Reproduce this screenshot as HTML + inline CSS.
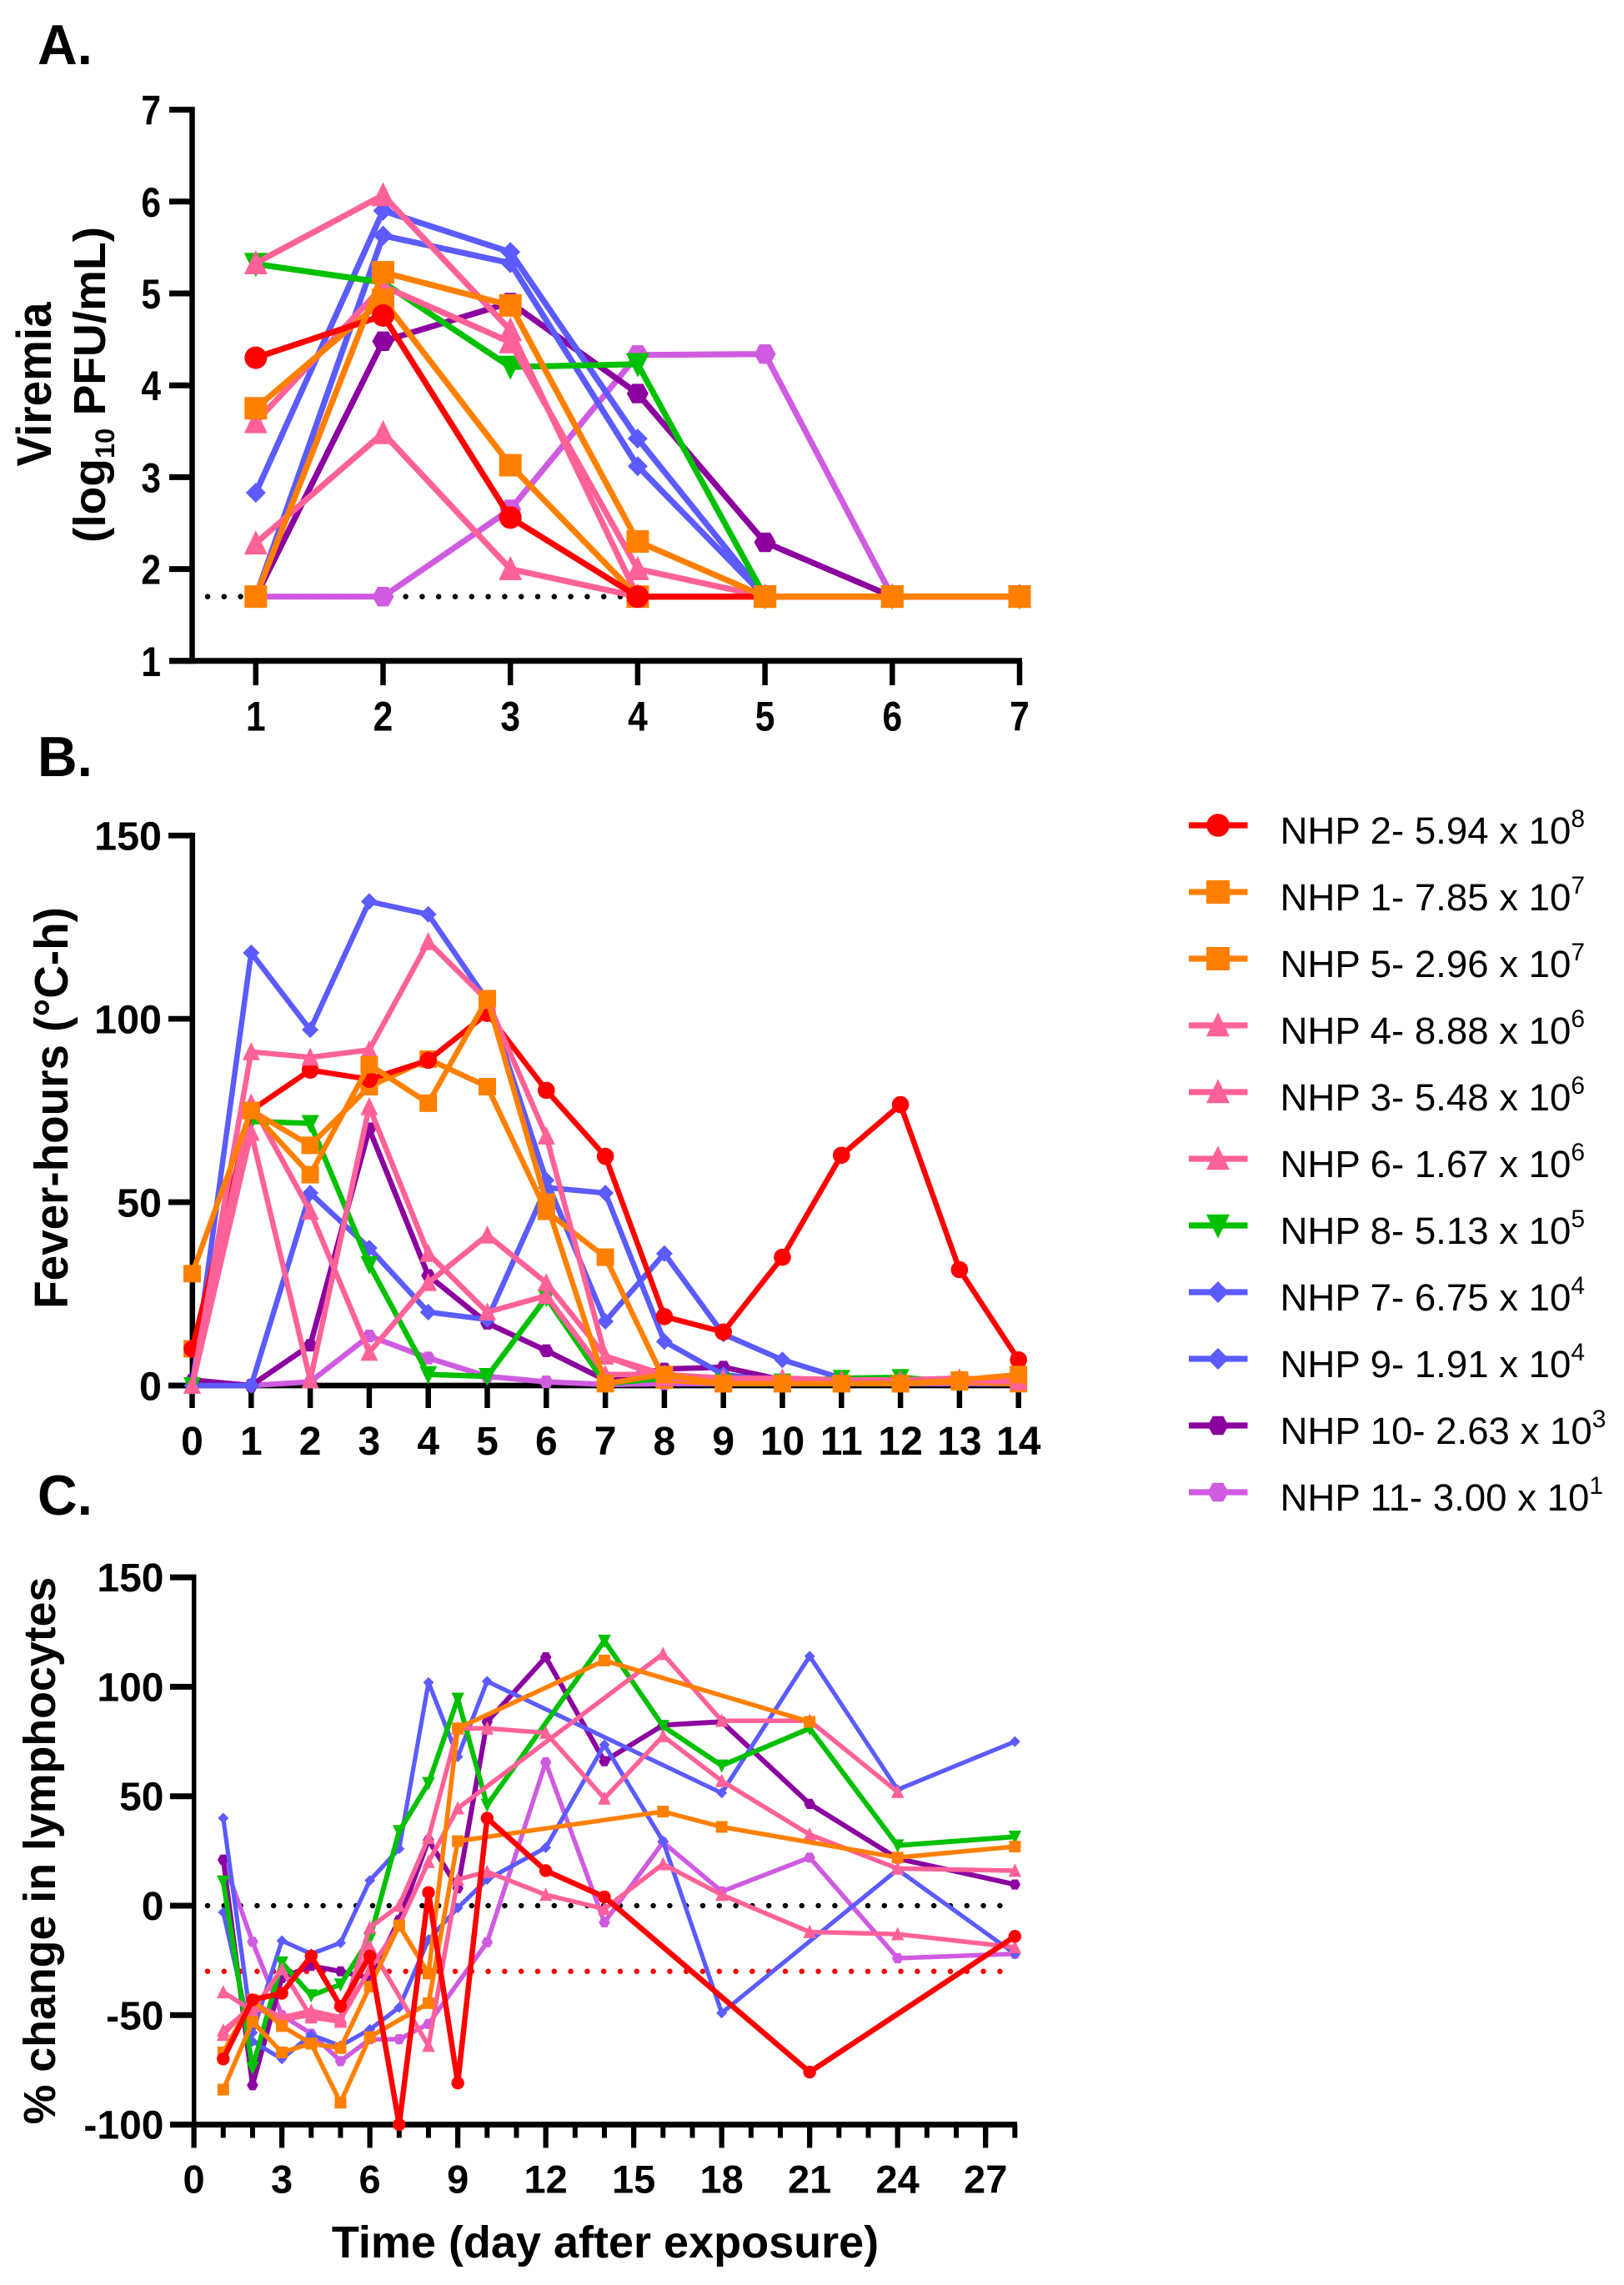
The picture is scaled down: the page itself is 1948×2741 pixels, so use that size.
<!DOCTYPE html>
<html lang="en">
<head>
<meta charset="utf-8">
<title>NHP viremia, fever-hours and lymphocyte change</title>
<style>
html,body{margin:0;padding:0;background:#fff;}
svg{display:block;}
text{font-family:"Liberation Sans",sans-serif;fill:#000;}
.bold{font-weight:bold;}
</style>
</head>
<body>
<svg id="figure" xmlns="http://www.w3.org/2000/svg" width="1948" height="2741" viewBox="0 0 1948 2741">
  <rect width="1948" height="2741" fill="#fff"/>

  <text class="bold" font-size="68" transform="translate(45,77) scale(.97,1)">A.</text>
  <text class="bold" font-size="68" transform="translate(45,931) scale(.97,1)">B.</text>
  <text class="bold" font-size="68" transform="translate(45,1817) scale(.97,1)">C.</text>

  <text class="bold" font-size="58" text-anchor="middle" transform="translate(61,461) rotate(-90) scale(.945,1)">Viremia</text>
  <text class="bold" font-size="54" text-anchor="middle" transform="translate(126,461.5) rotate(-90) scale(1.02,1)">(log<tspan font-size="32" dy="11">10</tspan><tspan dy="-11"> PFU/mL)</tspan></text>
  <text class="bold" font-size="57" text-anchor="middle" transform="translate(81,1329) rotate(-90) scale(.962,1)">Fever-hours (°C-h)</text>
  <text class="bold" font-size="54" text-anchor="middle" transform="translate(66,2220) rotate(-90) scale(.995,1)">% change in lymphocytes</text>
  <text class="bold" font-size="54" text-anchor="middle" transform="translate(726,2708) scale(1,1)">Time (day after exposure)</text>

  <g id="axes-layer"></g>
  <g id="marks-layer"></g>

  <g id="legend">
    <g id="legend-keys"></g>
    <text font-size="45.6" transform="translate(1535.5,1012)">NHP 2- 5.94 x 10<tspan font-size="30" dy="-20">8</tspan></text>
    <text font-size="45.6" transform="translate(1535.5,1092)">NHP 1- 7.85 x 10<tspan font-size="30" dy="-20">7</tspan></text>
    <text font-size="45.6" transform="translate(1535.5,1172)">NHP 5- 2.96 x 10<tspan font-size="30" dy="-20">7</tspan></text>
    <text font-size="45.6" transform="translate(1535.5,1252)">NHP 4- 8.88 x 10<tspan font-size="30" dy="-20">6</tspan></text>
    <text font-size="45.6" transform="translate(1535.5,1332)">NHP 3- 5.48 x 10<tspan font-size="30" dy="-20">6</tspan></text>
    <text font-size="45.6" transform="translate(1535.5,1412)">NHP 6- 1.67 x 10<tspan font-size="30" dy="-20">6</tspan></text>
    <text font-size="45.6" transform="translate(1535.5,1492)">NHP 8- 5.13 x 10<tspan font-size="30" dy="-20">5</tspan></text>
    <text font-size="45.6" transform="translate(1535.5,1572)">NHP 7- 6.75 x 10<tspan font-size="30" dy="-20">4</tspan></text>
    <text font-size="45.6" transform="translate(1535.5,1652)">NHP 9- 1.91 x 10<tspan font-size="30" dy="-20">4</tspan></text>
    <text font-size="45.6" transform="translate(1535.5,1732)">NHP 10- 2.63 x 10<tspan font-size="30" dy="-20">3</tspan></text>
    <text font-size="45.6" transform="translate(1535.5,1812)">NHP 11- 3.00 x 10<tspan font-size="30" dy="-20">1</tspan></text>
  </g>
</svg>

<script>
// ---------- Panel A: viremia ----------
const viremiaDays = [1, 2, 3, 4, 5, 6, 7];
const viremiaTicksX = [1, 2, 3, 4, 5, 6, 7];
const viremiaTicksY = [1, 2, 3, 4, 5, 6, 7];
const viremiaLimit = [1.7];
const viremiaNhp2 = [4.3, 4.76, 2.56, 1.7, 1.7, 1.7, 1.7];
const viremiaNhp1 = [3.75, 4.93, 3.13, 1.7, 1.7, 1.7, 1.7];
const viremiaNhp5 = [1.7, 5.23, 4.87, 2.3, 1.7, 1.7, 1.7];
const viremiaNhp4 = [5.33, 6.07, 4.6, 1.7, 1.7, 1.7, 1.7];
const viremiaNhp3 = [3.6, 5.08, 4.47, 2.0, 1.7, 1.7, 1.7];
const viremiaNhp6 = [2.28, 3.48, 2.0, 1.7, 1.7, 1.7, 1.7];
const viremiaNhp8 = [5.32, 5.12, 4.2, 4.23, 1.7, 1.7, 1.7];
const viremiaNhp7 = [2.83, 5.9, 5.45, 3.42, 1.7, 1.7, 1.7];
const viremiaNhp9 = [1.7, 5.63, 5.33, 3.12, 1.7, 1.7, 1.7];
const viremiaNhp10 = [1.7, 4.48, 4.9, 3.91, 2.29, 1.7, 1.7];
const viremiaNhp11 = [1.7, 1.7, 2.65, 4.33, 4.34, 1.7, 1.7];

// ---------- Panel B: fever-hours ----------
const feverDays = [0, 1, 2, 3, 4, 5, 6, 7, 8, 9, 10, 11, 12, 13, 14];
const feverTicksX = [0, 1, 2, 3, 4, 5, 6, 7, 8, 9, 10, 11, 12, 13, 14];
const feverTicksY = [0, 50, 100, 150];
const feverNhp2 = [10, 75, 86, 83.5, 88.7, 101.5, 80.5, 62.5, 18.8, 14.6, 35, 62.8, 76.6, 31.6, 7];
const feverNhp1 = [10, 75, 65.5, 81.5, 89, 81.5, 47.5, 35, 1.5, 0.5, 0.5, 0.5, 0.5, 1, 0.5];
const feverNhp5 = [30.5, 75, 57.5, 87.5, 77, 105.5, 50, 0.5, 3, 0.5, 0.5, 0.5, 0.5, 1.5, 3];
const feverNhp4 = [0, 91, 89.5, 91.5, 121, 105, 68, 8, 3, 2, 2, 1.5, 1.5, 2, 1.5];
const feverNhp3 = [0, 77, 47.5, 9, 28, 41, 28, 8, 2, 1.5, 2, 1.5, 1.5, 2, 1.5];
const feverNhp6 = [0, 69, 1.5, 76, 36, 20, 24.5, 3, 3, 2, 1.5, 1.5, 1.5, 1.5, 1];
const feverNhp8 = [0, 72, 71.5, 33, 3, 2.5, 24, 0.5, 2, 1, 1, 2, 2.2, 1, 1];
const feverNhp7 = [0, 118, 97, 132, 128.5, 105, 56, 17.5, 36, 14, 7, 2, 1, 1, 1];
const feverNhp9 = [0, 0, 52.5, 37.5, 20, 18, 54, 52.5, 12, 3, 1, 1, 1, 1, 1];
const feverNhp10 = [1.5, 0, 11, 70, 30, 17, 9.5, 1.5, 4.5, 5, 1.5, 1, 1, 1, 1];
const feverNhp11 = [0, 0, 1, 13.5, 7.5, 2.5, 1, 0.3, 0.5, 0.5, 0.5, 0.5, 0.5, 0.5, 0.5];

// ---------- Panel C: lymphocyte change ----------
const lymphDays = [1, 2, 3, 4, 5, 6, 7, 8, 9, 10, 12, 14, 16, 18, 21, 24, 28];
const lymphTicksMinor = [0, 1, 2, 3, 4, 5, 6, 7, 8, 9, 10, 11, 12, 13, 14, 15, 16, 17, 18, 19, 20, 21, 22, 23, 24, 25, 26, 27, 28];
const lymphTicksLabelled = [0, 3, 6, 9, 12, 15, 18, 21, 24, 27];
const lymphTicksY = [-100, -50, 0, 50, 100, 150];
const lymphBaseline = [0];
const lymphThreshold = [-30];
const lymphNhp2 = [-70, -43, -40, -23, -46, -23, -100, 6, -81, 40, 16, 4, null, null, -76, null, -14];
const lymphNhp1 = [-84, -53, -67, -63, -90, -60, null, -44.5, 29.5, null, null, null, 43, 36, null, 22, 27];
const lymphNhp5 = [-67, -43, -55, -63, -65, -37, -9, -31, 81, null, null, 112, null, null, 84, null, null];
const lymphNhp4 = [-39.5, -48, -29, -51, -53, -18.5, null, -64, 12, 15.5, 5, -1.5, 19, 5, -12, -13, -19];
const lymphNhp3 = [-59, -44.5, -51, -48, -51, -10, 0, 31, 81, 81, 79, 49, 77.5, 57, 32.5, 17, 16];
const lymphNhp6 = [-57, -46, -52, -50, -52, -29, -9, 20, 44.5, null, null, null, 115, 84.5, 84.5, 52, null];
const lymphNhp8 = [11, -74, -26, -41, -36, -15, 34, 56, 94.5, 46, null, 121, 82, 64, 81, 27.5, 31.5];
const lymphNhp7 = [40, -58, -16, -22, -17, 11.5, 26, 102, 68, 102.5, null, null, null, 51.5, 114, 53, 75];
const lymphNhp9 = [-3, -62, -70, -59, -64, -56.5, -46.5, -15.5, -1, 12, 26.5, 73.5, 29.5, -49, null, 16.5, -22];
const lymphNhp10 = [21, -82, -33, -27.5, -30, -33, -6.5, 30, 8, 84, 113.5, 66, 82.5, 84, 46.5, 21.5, 9.7];
const lymphNhp11 = [21, -16.5, -50, -58.5, -71, -61, -61, -54, null, -16.7, 65.5, -7.6, 29, 6.5, 22, -24, -22];

// ---------- Series appearance and legend order ----------
const legendOrder = ['nhp2', 'nhp1', 'nhp5', 'nhp4', 'nhp3', 'nhp6', 'nhp8', 'nhp7', 'nhp9', 'nhp10', 'nhp11'];
const seriesColor = {
  nhp2: '#ff0000', nhp1: '#ff8000', nhp5: '#ff8000', nhp4: '#ff6199', nhp3: '#ff6199', nhp6: '#ff6199',
  nhp8: '#00c000', nhp7: '#5b5bff', nhp9: '#5b5bff', nhp10: '#8b009f', nhp11: '#cf5be0'
};
const seriesShape = {
  nhp2: 'circle', nhp1: 'square', nhp5: 'square', nhp4: 'triangle', nhp3: 'triangle', nhp6: 'triangle',
  nhp8: 'inverted', nhp7: 'diamond', nhp9: 'diamond', nhp10: 'hexagon', nhp11: 'hexagon'
};

// ---------- Axis functions ----------
function xA(d) { return 306.8 + (d - 1) * 152.7; }
function yA(v) { return 792.8 - (v - 1) * 110.2; }
function xB(d) { return 230.5 + d * 70.8; }
function yB(v) { return 1662 - v * 4.3985; }
function xC(d) { return 232.6 + d * 35.17; }
function yC(v) { return 2286 - v * 2.6258; }

const NS = 'http://www.w3.org/2000/svg';
const axesLayer = document.getElementById('axes-layer');
const marksLayer = document.getElementById('marks-layer');
const legendKeys = document.getElementById('legend-keys');

function makeLine(parent, x1, y1, x2, y2, width, color) {
  const el = document.createElementNS(NS, 'line');
  el.setAttribute('x1', x1);
  el.setAttribute('y1', y1);
  el.setAttribute('x2', x2);
  el.setAttribute('y2', y2);
  el.setAttribute('stroke', color);
  el.setAttribute('stroke-width', width);
  parent.appendChild(el);
  return el;
}

function makeTickLabel(parent, x, y, str, anchor, size, sx, name) {
  const el = document.createElementNS(NS, 'text');
  el.setAttribute('class', 'bold');
  el.setAttribute('font-size', size);
  el.setAttribute('text-anchor', anchor);
  el.setAttribute('transform', 'translate(' + x + ',' + y + ') scale(' + sx + ',1)');
  el.textContent = str;
  
  
  parent.appendChild(el);
  return el;
}

function makeMarker(parent, shape, cx, cy, s, color) {
  let el;
  if (shape === 'circle') {
    el = document.createElementNS(NS, 'circle');
    el.setAttribute('cx', cx);
    el.setAttribute('cy', cy);
    el.setAttribute('r', s.circle);
  } else if (shape === 'square') {
    el = document.createElementNS(NS, 'rect');
    el.setAttribute('x', cx - s.square / 2);
    el.setAttribute('y', cy - s.square / 2);
    el.setAttribute('width', s.square);
    el.setAttribute('height', s.square);
  } else {
    el = document.createElementNS(NS, 'polygon');
    let pts;
    if (shape === 'triangle') {
      const w = s.tri / 2, h = s.tri * 0.56;
      pts = [[cx, cy - h], [cx + w, cy + h * 0.85], [cx - w, cy + h * 0.85]];
    } else if (shape === 'inverted') {
      const w = s.tri / 2, h = s.tri * 0.56;
      pts = [[cx, cy + h], [cx + w, cy - h * 0.85], [cx - w, cy - h * 0.85]];
    } else if (shape === 'diamond') {
      const r = s.diamond / 2;
      pts = [[cx, cy - r], [cx + r, cy], [cx, cy + r], [cx - r, cy]];
    } else {
      const w = s.hex / 2, h = s.hex * 0.45;
      pts = [[cx - w, cy], [cx - w * 0.5, cy - h], [cx + w * 0.5, cy - h], [cx + w, cy], [cx + w * 0.5, cy + h], [cx - w * 0.5, cy + h]];
    }
    el.setAttribute('points', pts.map(function (p) { return p[0].toFixed(1) + ',' + p[1].toFixed(1); }).join(' '));
  }
  el.setAttribute('fill', color);
  parent.appendChild(el);
  return el;
}

function drawSeries(chartName, key, days, values, xFn, yFn, lineWidth, sizes) {
  const group = document.createElementNS(NS, 'g');
  
  
  const color = seriesColor[key];
  const points = [];
  days.forEach(function (d, i) {
    if (values[i] !== null) points.push([xFn(d), yFn(values[i])]);
  });
  const path = document.createElementNS(NS, 'polyline');
  path.setAttribute('points', points.map(function (p) { return p[0].toFixed(1) + ',' + p[1].toFixed(1); }).join(' '));
  path.setAttribute('fill', 'none');
  path.setAttribute('stroke', color);
  path.setAttribute('stroke-width', lineWidth);
  path.setAttribute('stroke-linejoin', 'round');
  
  
  group.appendChild(path);
  points.forEach(function (p) {
    const m = makeMarker(group, seriesShape[key], p[0], p[1], sizes, color);
    
    
  });
  marksLayer.appendChild(group);
}

function drawDotted(name, value, yFn, x1, x2, color) {
  const el = makeLine(marksLayer, x1, yFn(value), x2, yFn(value), 6.5, color);
  el.setAttribute('stroke-dasharray', '0 19.8');
  el.setAttribute('stroke-linecap', 'round');
  
  
}

function drawAxisLines(name, axisX, axisY, topY, leftX, rightX, widthV, widthH) {
  const yAxis = makeLine(axesLayer, axisX, topY - widthH / 2, axisX, axisY + widthH / 2, widthV, '#000');
  
  
  const xAxis = makeLine(axesLayer, leftX, axisY, rightX, axisY, widthH, '#000');
  
  
}

function tickY(name, v, yFn, leftX, axisX, width, labelX, baseOffset, size, sx) {
  const t = makeLine(axesLayer, leftX, yFn(v), axisX, yFn(v), width, '#000');
  
  
  makeTickLabel(axesLayer, labelX, yFn(v) + baseOffset, String(v), 'end', size, sx, name + '-y-tick-label');
}

function tickX(name, d, xFn, axisY, bottomY, width) {
  const t = makeLine(axesLayer, xFn(d), axisY, xFn(d), bottomY, width, '#000');
  
  
}

// ---------- Panel A ----------
drawAxisLines('viremia', 230.5, yA(1), yA(7), 203, 1226, 6.5, 7);
viremiaTicksY.forEach(function (v) { tickY('viremia', v, yA, 203, 230.5, 7, 193, 18, 50, 0.85); });
viremiaTicksX.forEach(function (d) {
  tickX('viremia', d, xA, yA(1), 822, 6.5);
  makeTickLabel(axesLayer, xA(d), 876.5, String(d), 'middle', 50, 0.85, 'viremia-x-tick-label');
});
drawDotted('viremia-detection-limit', viremiaLimit[0], yA, 249, 765, '#000');

const viremiaSizes = { circle: 13.5, square: 27, tri: 28, diamond: 24, hex: 26 };
drawSeries('viremia', 'nhp11', viremiaDays, viremiaNhp11, xA, yA, 7.2, viremiaSizes);
drawSeries('viremia', 'nhp10', viremiaDays, viremiaNhp10, xA, yA, 7.2, viremiaSizes);
drawSeries('viremia', 'nhp9', viremiaDays, viremiaNhp9, xA, yA, 7.2, viremiaSizes);
drawSeries('viremia', 'nhp7', viremiaDays, viremiaNhp7, xA, yA, 7.2, viremiaSizes);
drawSeries('viremia', 'nhp8', viremiaDays, viremiaNhp8, xA, yA, 7.2, viremiaSizes);
drawSeries('viremia', 'nhp6', viremiaDays, viremiaNhp6, xA, yA, 7.2, viremiaSizes);
drawSeries('viremia', 'nhp3', viremiaDays, viremiaNhp3, xA, yA, 7.2, viremiaSizes);
drawSeries('viremia', 'nhp4', viremiaDays, viremiaNhp4, xA, yA, 7.2, viremiaSizes);
drawSeries('viremia', 'nhp1', viremiaDays, viremiaNhp1, xA, yA, 7.2, viremiaSizes);
drawSeries('viremia', 'nhp2', viremiaDays, viremiaNhp2, xA, yA, 7.2, viremiaSizes);
drawSeries('viremia', 'nhp5', viremiaDays, viremiaNhp5, xA, yA, 7.2, viremiaSizes);

// ---------- Panel B ----------
drawAxisLines('fever', 230.8, yB(0), yB(150), 202, 1225, 6.5, 6.8);
feverTicksY.forEach(function (v) { tickY('fever', v, yB, 202, 230.8, 6.8, 194, 17.5, 48, 1.01); });
feverTicksX.forEach(function (d) {
  tickX('fever', d, xB, yB(0), 1689, 6.5);
  makeTickLabel(axesLayer, xB(d), 1745, String(d), 'middle', 48, 1, 'fever-x-tick-label');
});

const feverSizes = { circle: 10.3, square: 21, tri: 21, diamond: 20, hex: 17 };
drawSeries('fever', 'nhp11', feverDays, feverNhp11, xB, yB, 6.5, feverSizes);
drawSeries('fever', 'nhp10', feverDays, feverNhp10, xB, yB, 6.5, feverSizes);
drawSeries('fever', 'nhp9', feverDays, feverNhp9, xB, yB, 6.5, feverSizes);
drawSeries('fever', 'nhp7', feverDays, feverNhp7, xB, yB, 6.5, feverSizes);
drawSeries('fever', 'nhp8', feverDays, feverNhp8, xB, yB, 6.5, feverSizes);
drawSeries('fever', 'nhp1', feverDays, feverNhp1, xB, yB, 6.5, feverSizes);
drawSeries('fever', 'nhp2', feverDays, feverNhp2, xB, yB, 6.5, feverSizes);
drawSeries('fever', 'nhp6', feverDays, feverNhp6, xB, yB, 6.5, feverSizes);
drawSeries('fever', 'nhp3', feverDays, feverNhp3, xB, yB, 6.5, feverSizes);
drawSeries('fever', 'nhp4', feverDays, feverNhp4, xB, yB, 6.5, feverSizes);
drawSeries('fever', 'nhp5', feverDays, feverNhp5, xB, yB, 6.5, feverSizes);

// ---------- Panel C ----------
drawAxisLines('lymphocytes', 232.7, yC(-100), yC(150), 204, 1220, 5.5, 7);
lymphTicksY.forEach(function (v) { tickY('lymphocytes', v, yC, 204, 232.7, 7, 196.5, 17, 48, 1); });
lymphTicksMinor.forEach(function (d) { tickX('lymphocytes', d, xC, yC(-100), 2564.5, 6); });
lymphTicksLabelled.forEach(function (d) {
  tickX('lymphocytes', d, xC, yC(-100), 2576.5, 6.2);
  makeTickLabel(axesLayer, xC(d), 2630.5, String(d), 'middle', 47, 1, 'lymphocytes-x-tick-label');
});
drawDotted('lymphocytes-baseline', lymphBaseline[0], yC, 249, 1202, '#000');
drawDotted('lymphocytes-threshold', lymphThreshold[0], yC, 249, 1202, '#ff0000');

const lymphSizes = { circle: 7.7, square: 14, tri: 15.5, diamond: 13, hex: 13.5 };
drawSeries('lymphocytes', 'nhp11', lymphDays, lymphNhp11, xC, yC, 5.5, lymphSizes);
drawSeries('lymphocytes', 'nhp10', lymphDays, lymphNhp10, xC, yC, 6, lymphSizes);
drawSeries('lymphocytes', 'nhp9', lymphDays, lymphNhp9, xC, yC, 5.2, lymphSizes);
drawSeries('lymphocytes', 'nhp7', lymphDays, lymphNhp7, xC, yC, 5.2, lymphSizes);
drawSeries('lymphocytes', 'nhp8', lymphDays, lymphNhp8, xC, yC, 6, lymphSizes);
drawSeries('lymphocytes', 'nhp4', lymphDays, lymphNhp4, xC, yC, 5.5, lymphSizes);
drawSeries('lymphocytes', 'nhp3', lymphDays, lymphNhp3, xC, yC, 5.5, lymphSizes);
drawSeries('lymphocytes', 'nhp6', lymphDays, lymphNhp6, xC, yC, 5.5, lymphSizes);
drawSeries('lymphocytes', 'nhp1', lymphDays, lymphNhp1, xC, yC, 5.5, lymphSizes);
drawSeries('lymphocytes', 'nhp5', lymphDays, lymphNhp5, xC, yC, 5.5, lymphSizes);
drawSeries('lymphocytes', 'nhp2', lymphDays, lymphNhp2, xC, yC, 6.5, lymphSizes);

// ---------- Legend keys ----------
const legendSizes = { circle: 13.8, square: 28, tri: 28, diamond: 26, hex: 25 };
legendOrder.forEach(function (key, i) {
  const rowY = 990 + i * 80;
  const keyLine = makeLine(legendKeys, 1426, rowY, 1496.5, rowY, 7.3, seriesColor[key]);
  
  
  const keyMark = makeMarker(legendKeys, seriesShape[key], 1461, rowY, legendSizes, seriesColor[key]);
  
  
});
</script>
</body>
</html>
